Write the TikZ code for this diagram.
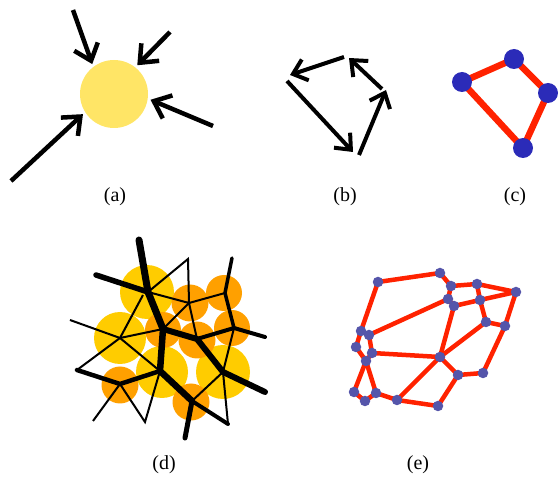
\documentclass[tikz,border=0pt]{standalone}
\usepackage{fontspec}
\setmainfont{Liberation Serif}
\usetikzlibrary{arrows.meta,backgrounds}
\definecolor{sunY}{HTML}{FFE566}
\definecolor{dY}{HTML}{FFCC00}
\definecolor{dO}{HTML}{FFA000}
\definecolor{eRed}{HTML}{FF2200}
\definecolor{cBlue}{HTML}{2B2BB8}
\definecolor{eBlue}{HTML}{5555AA}
\begin{document}
\begin{tikzpicture}[x=1pt,y=-1pt,
  bigarr/.style={line width=4.5pt,-{Straight Barb[length=15pt,width=25pt]}},
  midarr/.style={line width=4pt,-{Straight Barb[length=13pt,width=22pt]}},
  lbl/.style={font=\fontsize{20}{22}\selectfont, inner sep=0pt},
  cnode/.style={circle, fill=cBlue, minimum size=20pt, inner sep=0pt},
  cedge/.style={eRed, line width=6.5pt},
  enode/.style={circle, fill=eBlue, minimum size=10.5pt, inner sep=0pt},
  eedge/.style={eRed, line width=4.5pt},
  thin/.style={line width=2pt},
  thk/.style={line width=#1, line cap=round, line join=round}
]
\useasboundingbox (0,0) rectangle (558,481);

% ---------- (a)
\node[circle, fill=sunY, minimum size=68pt, inner sep=0pt, outer sep=3pt] (sun) at (114,94) {};
\coordinate (a1) at (73,10);
\coordinate (a2) at (170,32);
\coordinate (a3) at (213,126);
\coordinate (a4) at (11,181);
\draw[bigarr] (a1) -- (sun.126);
\draw[bigarr] (a2) -- (sun.51);
\draw[bigarr] (a3) -- (sun.-9);
\draw[bigarr] (a4) -- (sun.213);
\node[lbl] (la) at (115,197) {(a)};

% ---------- (b)
\coordinate (b1s) at (344,57);  \coordinate (b1e) at (290,75);
\coordinate (b2s) at (287,81);  \coordinate (b2e) at (353,152);
\coordinate (b3s) at (359,155); \coordinate (b3e) at (386,90);
\coordinate (b4s) at (382,89);  \coordinate (b4e) at (349,58);
\draw[midarr] (b1s) -- (b1e);
\draw[midarr] (b2s) -- (b2e);
\draw[midarr] (b3s) -- (b3e);
\draw[midarr] (b4s) -- (b4e);
\node[lbl] (lb) at (345,197) {(b)};

% ---------- (c)
\node[cnode] (c1) at (462,82) {};
\node[cnode] (c2) at (514,59) {};
\node[cnode] (c3) at (548,93) {};
\node[cnode] (c4) at (523,148) {};
\begin{pgfonlayer}{background}
\draw[cedge] (c1.center) -- (c2.center) -- (c3.center) -- (c4.center) -- cycle;
\end{pgfonlayer}
\node[lbl] (lc) at (515,197) {(c)};

% ---------- (d)
\fill[dY] (147,292) circle[radius=27pt];
\fill[dY] (120,338) circle[radius=26pt];
\fill[dY] (162,372) circle[radius=26pt];
\fill[dY] (223,372) circle[radius=27pt];
\fill[dO] (190,303) circle[radius=18.5pt];
\fill[dO] (224,293) circle[radius=18pt];
\fill[dO] (163,330) circle[radius=18pt];
\fill[dO] (197,340) circle[radius=18.5pt];
\fill[dO] (232,328) circle[radius=18pt];
\fill[dO] (120,385) circle[radius=18.5pt];
\fill[dO] (191,402) circle[radius=18.5pt];

\coordinate (dT) at (139,240);
\coordinate (dA) at (148,292);
\coordinate (dL) at (96,275);
\coordinate (dB) at (163,329);
\coordinate (dC) at (160,371);
\coordinate (dD) at (192,401);
\coordinate (dDb) at (185,438);
\coordinate (dDr) at (228,424);
\coordinate (dF) at (197,339);
\coordinate (dE) at (223,372);
\coordinate (dEr) at (265,392);
\coordinate (dG) at (234,328);
\coordinate (dGr) at (265,337);
\coordinate (dH) at (225,293);
\coordinate (dHt) at (232,258);
\coordinate (dI) at (120,384);
\coordinate (dIl) at (77,370);
\coordinate (dJ) at (188,259);
\coordinate (dK) at (189,303);
\coordinate (dM) at (120,338);
\coordinate (dMl) at (70,320);
\coordinate (dAm) at (143,295);
\coordinate (dIa) at (93,421);
\coordinate (dIb) at (145,422);

% thin lines
\draw[thin] (dA) -- (dJ) -- (dK) -- (dA);
\draw[thin] (dK) -- (dH);
\draw[thin] (dK) -- (dF);
\draw[thin] (dK) -- (dB);
\draw[thin] (dAm) -- (dM);
\draw[thin] (dMl) -- (dM) -- (dB);
\draw[thin] (dIl) -- (dM) -- (dC);
\draw[thin] (dIa) -- (dI) -- (dIb) -- (dC);
\draw[thin] (dDr) -- (dE) -- (dD);
\draw[thin] (dE) -- (dG);

% thick lines
\draw[thk=7pt] (dT) -- (dA) -- (dB);
\draw[thk=5.5pt] (dL) -- (dA);
\draw[thk=6.5pt] (dB) -- (dC) -- (dD);
\draw[thk=5pt] (dD) -- (dDb);
\draw[thk=6pt] (dB) -- (dF) -- (dE) -- (dEr);
\draw[thk=4.5pt] (dC) -- (dI) -- (dIl);
\draw[thk=4pt] (dD) -- (dDr);
\draw[thk=4pt] (dF) -- (dG) -- (dGr);
\draw[thk=3.5pt] (dG) -- (dH) -- (dHt);
\node[lbl] (ld) at (164,465) {(d)};

% ---------- (e)
\node[enode] (e1) at (378,282) {};
\node[enode] (e2) at (440,273) {};
\node[enode] (e3) at (451,286) {};
\node[enode] (e4) at (477,284) {};
\node[enode] (e5) at (516,292) {};
\node[enode] (e6) at (448,299) {};
\node[enode] (e7) at (454,306) {};
\node[enode] (e8) at (480,300) {};
\node[enode] (e9) at (486,322) {};
\node[enode] (e10) at (505,326) {};
\node[enode] (e11) at (361,331) {};
\node[enode] (e12) at (369,335) {};
\node[enode] (e13) at (356,347) {};
\node[enode] (e14) at (372,353) {};
\node[enode] (e15) at (366,361) {};
\node[enode] (e16) at (440,357) {};
\node[enode] (e17) at (458,375) {};
\node[enode] (e18) at (483,373) {};
\node[enode] (e19) at (354,392) {};
\node[enode] (e20) at (365,401) {};
\node[enode] (e21) at (376,393) {};
\node[enode] (e22) at (397,400) {};
\node[enode] (e23) at (438,406) {};
\begin{pgfonlayer}{background}
\foreach \a/\b in {1/2,2/3,3/4,4/5,3/6,6/7,7/8,8/5,4/8,8/9,9/10,10/5,12/6,7/16,9/16,
  10/18,18/17,17/16,17/23,16/22,16/14,22/23,22/21,21/15,21/20,20/19,19/15,15/13,
  13/11,11/12,11/1,12/14,14/15}
  \draw[eedge] (e\a.center) -- (e\b.center);
\end{pgfonlayer}
\node[lbl] (le) at (418,465) {(e)};
\end{tikzpicture}
\end{document}
